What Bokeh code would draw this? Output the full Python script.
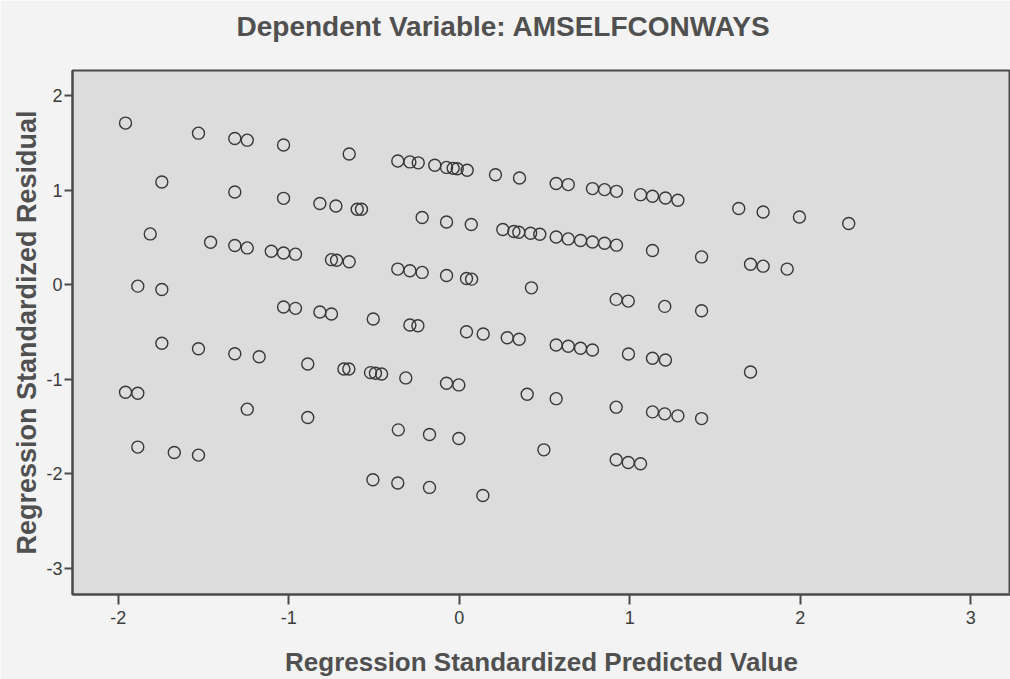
from bokeh.plotting import figure
from bokeh.models import Range1d, FixedTicker, PrintfTickFormatter, Title
from bokeh.embed import file_html
from bokeh.resources import INLINE

# Regression standardized predicted values (x) and residuals (y)
pred = [
    -1.958, -1.530, -1.317, -1.244, -1.031, -0.646, -0.361, -0.290, -0.241, -0.144,
    -0.075, -0.036, -0.012, 0.046, 0.212, 0.353, 0.568, 0.639, 0.781, 0.852,
    0.922, 1.063, 1.133, 1.209, 1.282, 1.639, 1.782, 1.995, 2.284,
    -1.745, -1.317, -1.031, -0.818, -0.724, -0.599, -0.574, -0.218, -0.075, 0.070,
    0.255, 0.320, 0.349, 0.418, 0.472, 0.568, 0.639, 0.711, 0.781, 0.852,
    0.922, 1.133, 1.421, 1.708, 1.782, 1.923,
    -1.813, -1.459, -1.317, -1.244, -1.103, -1.031, -0.961, -0.750, -0.720, -0.646,
    -0.361, -0.290, -0.218, -0.075, 0.042, 0.072,
    -1.886, -1.745, 0.423, -1.031, -0.961, -0.818, -0.750, 0.920, 0.991, 1.205, 1.421,
    -0.505, -0.290, -0.243, 0.042, 0.140, 0.281, 0.351, 0.568, 0.639, 0.711,
    0.781, 0.992, 1.133, 1.209, 1.708,
    -1.745, -1.530, -1.317, -1.174, -0.889, -0.677, -0.648, -0.521, -0.492, -0.456,
    -0.314, -0.075, -0.003, 0.398, 0.568, 0.920, 1.133, 1.205, 1.282, 1.421,
    -1.958, -1.886, -1.244, -0.889, -1.886, -1.672, -1.530,
    -0.358, -0.175, -0.003, 0.496, 0.920, 0.991, 1.063, -0.507, -0.361, -0.175, 0.138,
]
resid = [
    1.707, 1.601, 1.545, 1.527, 1.475, 1.380, 1.306, 1.297, 1.287, 1.261,
    1.239, 1.229, 1.224, 1.208, 1.162, 1.127, 1.068, 1.057, 1.015, 1.004,
    0.986, 0.951, 0.934, 0.916, 0.891, 0.804, 0.768, 0.715, 0.646,
    1.084, 0.979, 0.912, 0.857, 0.831, 0.796, 0.796, 0.709, 0.662, 0.635,
    0.582, 0.561, 0.554, 0.543, 0.533, 0.504, 0.483, 0.466, 0.451, 0.438,
    0.417, 0.361, 0.293, 0.216, 0.195, 0.164,
    0.536, 0.448, 0.414, 0.388, 0.353, 0.335, 0.322, 0.264, 0.258, 0.241,
    0.164, 0.146, 0.129, 0.097, 0.065, 0.058,
    -0.016, -0.051, -0.034, -0.237, -0.251, -0.290, -0.311, -0.156, -0.174, -0.230, -0.276,
    -0.364, -0.427, -0.435, -0.498, -0.522, -0.561, -0.578, -0.638, -0.652, -0.673,
    -0.691, -0.733, -0.778, -0.796, -0.923,
    -0.620, -0.677, -0.730, -0.762, -0.839, -0.891, -0.891, -0.930, -0.937, -0.944,
    -0.986, -1.042, -1.060, -1.158, -1.205, -1.295, -1.345, -1.366, -1.387, -1.416,
    -1.137, -1.148, -1.316, -1.405, -1.717, -1.774, -1.802,
    -1.535, -1.584, -1.627, -1.746, -1.851, -1.880, -1.893, -2.062, -2.097, -2.143, -2.228,
]
x_ticks = [-2, -1, 0, 1, 2, 3]
y_ticks = [-3, -2, -1, 0, 1, 2]
title_text = "Dependent Variable: AMSELFCONWAYS"

FONT = "Liberation Sans"
TXT = "#505050"
AX = "#4a4a4a"

p = figure(width=1010, height=679, output_backend="svg", toolbar_location=None,
           x_range=Range1d(-2.269, 3.233), y_range=Range1d(-3.275, 2.263),
           min_border_left=72, min_border_right=0, min_border_top=70, min_border_bottom=84)
p.title.text = ""

# an empty spacer panel next to the frame, then the real title above it
p.add_layout(Title(text=" ", text_font_size="10px", standoff=16), "above")
p.add_layout(Title(text=title_text, text_font=FONT, text_font_size="28px",
                   text_font_style="bold", text_color=TXT, align="left",
                   offset=164, standoff=0), "above")

p.background_fill_color = "#dcdcdc"
p.border_fill_color = "#f3f3f3"
p.outline_line_color = AX
p.outline_line_width = 2
p.grid.visible = False

p.scatter(pred, resid, marker="circle", size=12, fill_color=None,
          line_color="#383838", line_width=1.4)

for ax, ticks in ((p.xaxis[0], x_ticks), (p.yaxis[0], y_ticks)):
    ax.ticker = FixedTicker(ticks=ticks)
    ax.formatter = PrintfTickFormatter(format="%d")
    ax.minor_tick_line_color = None
    ax.major_tick_in = 0
    ax.major_tick_line_color = AX
    ax.major_tick_line_width = 2
    ax.axis_line_color = AX
    ax.axis_line_width = 2
    ax.major_label_text_font = FONT
    ax.major_label_text_font_size = "18px"
    ax.major_label_text_color = "#3c3c3c"
    ax.axis_label_text_font = FONT
    ax.axis_label_text_font_style = "bold"
    ax.axis_label_text_color = TXT

p.xaxis.axis_label = "Regression Standardized Predicted Value"
p.yaxis.axis_label = "Regression Standardized Residual"
p.xaxis.major_tick_out = 10
p.yaxis.major_tick_out = 8
p.xaxis.axis_label_text_font_size = "26px"
p.yaxis.axis_label_text_font_size = "27px"
p.xaxis.major_label_standoff = 6
p.xaxis.axis_label_standoff = 20
p.yaxis.major_label_standoff = 2
p.yaxis.axis_label_standoff = 1

open("out.html", "w").write(file_html(p, INLINE))
